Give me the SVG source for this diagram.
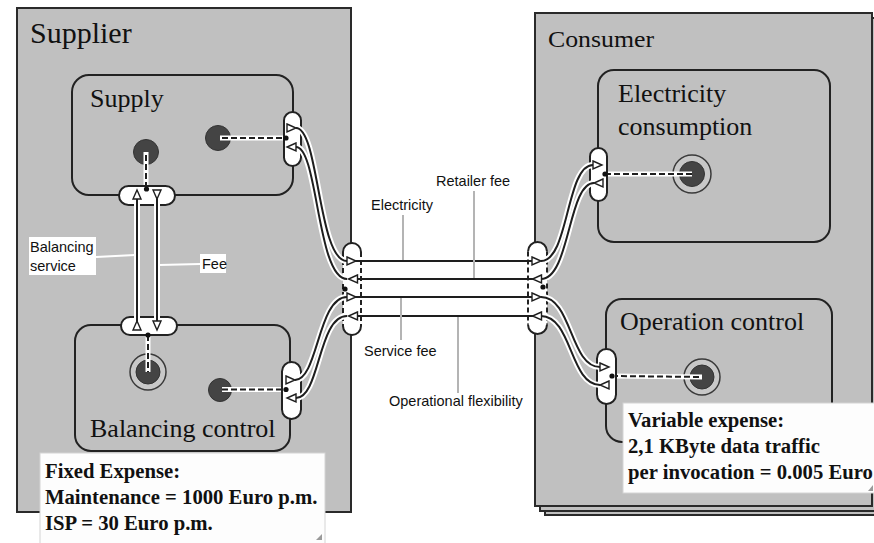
<svg xmlns="http://www.w3.org/2000/svg" width="874" height="543" viewBox="0 0 874 543">
<style>
.actor{fill:#c0c0c0;stroke:#2a2a2a;stroke-width:2}
.box{fill:#c0c0c0;stroke:#222;stroke-width:2}
.pill{fill:#fff;stroke:#222;stroke-width:2}
.pillfill{fill:#fff;stroke:none}
.pcap{fill:none;stroke:#222;stroke-width:2}
.pside{fill:none;stroke:#222;stroke-width:2;stroke-dasharray:5 3}
.halo{fill:none;stroke:#fff;stroke-width:6;stroke-linecap:butt}
.ln{fill:none;stroke:#1e1e1e;stroke-width:2}
.tri{fill:#fff;stroke:#1e1e1e;stroke-width:1.4;stroke-linejoin:miter}
.dhalo{stroke:#fff;stroke-width:5}
.dash{stroke:#1e1e1e;stroke-width:2;stroke-dasharray:6 3}
.dot{fill:#111}
.stim{fill:#444;stroke:#333;stroke-width:1}
.ring{fill:#c8c8c8;stroke:#3a3a3a;stroke-width:1.5}
.serif{font-family:"Liberation Serif","Times New Roman",serif;fill:#111}
.sans{font-family:"Liberation Sans",Arial,sans-serif;font-size:14.5px;fill:#111}
.note{fill:#fdfdfd;stroke:#d4d4d4;stroke-width:1}
.notetxt{font-family:"Liberation Serif","Times New Roman",serif;font-size:20.7px;font-weight:bold;fill:#111}
.lead{stroke:#b4b4b4;stroke-width:2}
.leadw{stroke:#fff;stroke-width:2}
.lbg{fill:#fff}
.corner{fill:#9a9a9a}
</style>
<defs>
<path id="tr" class="tri" d="M-4.5,-4 L4.5,0 L-4.5,4 Z"/>
<path id="tl" class="tri" d="M4.5,-4 L-4.5,0 L4.5,4 Z"/>
<path id="tu" class="tri" d="M-4,4.5 L0,-4.5 L4,4.5 Z"/>
<path id="td" class="tri" d="M-4,-4.5 L0,4.5 L4,-4.5 Z"/>
<path id="cA" d="M296,128 C319,128 318,261 347,261"/>
<path id="cB" d="M296,147 C318,147 317,279 347,279"/>
<path id="cC" d="M295,380 C318,380 318,297 347,297"/>
<path id="cD" d="M296,398 C320,398 318,316 347,316"/>
<path id="cE" d="M541,261 C569,261 566,165 593,165"/>
<path id="cF" d="M541,279 C570,279 568,183 594,183"/>
<path id="cG" d="M541,297 C572,297 570,367 600,367"/>
<path id="cH" d="M541,316 C572,316 570,385 600,385"/>
<path id="hL1" d="M352,261 H537"/>
<path id="hL2" d="M352,279 H537"/>
<path id="hL3" d="M352,297 H537"/>
<path id="hL4" d="M352,316 H537"/>
<path id="v1" d="M137,195 V326"/>
<path id="v2" d="M157,195 V326"/>
</defs>

<rect width="874" height="543" fill="#fff"/>

<g id="supplier">
<rect class="actor" x="17" y="8" width="334" height="504"/>
<text class="serif" x="30" y="43" font-size="30">Supplier</text>
</g>

<g id="consumer">
<rect class="actor" x="545" y="23" width="340" height="492"/>
<rect class="actor" x="540" y="18" width="340" height="493"/>
<rect class="actor" x="535" y="13" width="337" height="493"/>
<text class="serif" x="548" y="47" font-size="24" textLength="106" lengthAdjust="spacingAndGlyphs">Consumer</text>
</g>

<g id="supply">
<rect class="box" x="72" y="75" width="221" height="120" rx="17"/>
<text class="serif" x="90" y="107" font-size="26">Supply</text>
<circle class="stim" cx="146" cy="152" r="12.5"/>
<circle class="stim" cx="218" cy="138" r="12.5"/>
<line class="dhalo" x1="146" y1="152" x2="146" y2="189"/>
<line class="dash" x1="146" y1="155" x2="146" y2="189"/>
<line class="dhalo" x1="220" y1="138" x2="286" y2="138"/>
<line class="dash" x1="222" y1="138" x2="286" y2="138"/>
</g>

<g id="balancing-control">
<rect class="box" x="75" y="325" width="215" height="126" rx="16"/>
<text class="serif" x="90" y="437" font-size="26">Balancing control</text>
<circle class="ring" cx="148" cy="372" r="18"/>
<circle class="stim" cx="148" cy="372" r="12"/>
<line class="dhalo" x1="148" y1="335" x2="148" y2="372"/>
<line class="dash" x1="148" y1="335" x2="148" y2="372"/>
<circle class="stim" cx="220" cy="390" r="11.5"/>
<line class="dhalo" x1="222" y1="389.5" x2="286" y2="389.5"/>
<line class="dash" x1="222" y1="389.5" x2="286" y2="389.5"/>
</g>

<g id="electricity-consumption">
<rect class="box" x="598" y="70" width="232" height="172" rx="16"/>
<text class="serif" x="618" y="102" font-size="26">Electricity</text>
<text class="serif" x="618" y="135" font-size="26">consumption</text>
<circle class="ring" cx="692" cy="174" r="19"/>
<circle class="stim" cx="692" cy="174" r="12.5"/>
<line class="dhalo" x1="605" y1="174" x2="692" y2="174"/>
<line class="dash" x1="605" y1="174" x2="692" y2="174"/>
</g>

<g id="operation-control">
<rect class="box" x="606" y="299" width="226" height="143" rx="16"/>
<text class="serif" x="620" y="330" font-size="26">Operation control</text>
<circle class="ring" cx="702" cy="377" r="18"/>
<circle class="stim" cx="702" cy="377" r="12"/>
<line class="dhalo" x1="612" y1="376" x2="702" y2="377"/>
<line class="dash" x1="612" y1="376" x2="702" y2="377"/>
</g>

<g id="ports">
<rect class="pill" x="284" y="112" width="17" height="54" rx="8.5"/>
<rect class="pill" x="282" y="362" width="19" height="57" rx="9.5"/>
<rect class="pill" x="590" y="148" width="17" height="53" rx="8.5"/>
<rect class="pill" x="597" y="349" width="19" height="55" rx="9.5"/>
<rect class="pill" x="119" y="186" width="56" height="19" rx="9.5"/>
<rect class="pill" x="121" y="317" width="56" height="18" rx="9"/>
<rect class="pillfill" x="343" y="243" width="18" height="92" rx="9"/>
<path class="pcap" d="M343,252 A9,9 0 0 1 361,252 M343,326 A9,9 0 0 0 361,326"/>
<path class="pside" d="M343,252 V326 M361,252 V326"/>
<rect class="pillfill" x="528" y="242" width="19" height="92" rx="9.5"/>
<path class="pcap" d="M528,251.5 A9.5,9.5 0 0 1 547,251.5 M528,324.5 A9.5,9.5 0 0 0 547,324.5"/>
<path class="pside" d="M528,251.5 V324.5 M547,251.5 V324.5"/>
</g>

<g id="connectors">
<use href="#cA" class="halo"/><use href="#cB" class="halo"/><use href="#cC" class="halo"/><use href="#cD" class="halo"/>
<use href="#cE" class="halo"/><use href="#cF" class="halo"/><use href="#cG" class="halo"/><use href="#cH" class="halo"/>
<use href="#v1" class="halo"/><use href="#v2" class="halo"/>
<use href="#cA" class="ln"/><use href="#cB" class="ln"/><use href="#cC" class="ln"/><use href="#cD" class="ln"/>
<use href="#cE" class="ln"/><use href="#cF" class="ln"/><use href="#cG" class="ln"/><use href="#cH" class="ln"/>
<use href="#hL1" class="ln"/><use href="#hL2" class="ln"/><use href="#hL3" class="ln"/><use href="#hL4" class="ln"/>
<use href="#v1" class="ln"/><use href="#v2" class="ln"/>
<use href="#tr" x="291.5" y="128"/><use href="#tl" x="291.5" y="147"/>
<use href="#tr" x="290.5" y="380"/><use href="#tl" x="291.5" y="398"/>
<use href="#tr" x="351.5" y="261"/><use href="#tl" x="353" y="279"/><use href="#tr" x="351.5" y="297"/><use href="#tl" x="353" y="316"/>
<use href="#tr" x="536.5" y="261"/><use href="#tl" x="537" y="279"/><use href="#tr" x="536.5" y="297"/><use href="#tl" x="537" y="316"/>
<use href="#tr" x="597.5" y="165"/><use href="#tl" x="598.5" y="183"/>
<use href="#tr" x="604.5" y="367"/><use href="#tl" x="604.5" y="385"/>
<use href="#tu" x="137" y="194.5"/><use href="#td" x="157" y="194.5"/>
<use href="#tu" x="137" y="325.5"/><use href="#td" x="157" y="325.5"/>
<circle class="dot" cx="146.5" cy="189" r="2.6"/>
<circle class="dot" cx="286" cy="138" r="2.6"/>
<circle class="dot" cx="148" cy="335" r="2.6"/>
<circle class="dot" cx="286" cy="389.5" r="2.6"/>
<circle class="dot" cx="345" cy="289" r="2.6"/>
<circle class="dot" cx="543" cy="287" r="2.6"/>
<circle class="dot" cx="605" cy="174" r="2.6"/>
<circle class="dot" cx="612" cy="376" r="2.6"/>
</g>

<g id="labels">
<line class="lead" x1="403" y1="215" x2="403" y2="260"/>
<line class="lead" x1="474" y1="191" x2="474" y2="278"/>
<line class="lead" x1="401" y1="298" x2="401" y2="340"/>
<line class="lead" x1="458" y1="317" x2="458" y2="393"/>
<text class="sans" x="371" y="210">Electricity</text>
<text class="sans" x="436" y="186">Retailer fee</text>
<text class="sans" x="364" y="356">Service fee</text>
<text class="sans" x="389" y="406">Operational flexibility</text>
<line class="leadw" x1="96" y1="257" x2="135" y2="255"/>
<line class="leadw" x1="159" y1="265" x2="200" y2="264"/>
<rect class="lbg" x="29" y="237" width="67" height="38"/>
<text class="sans" x="30" y="252">Balancing</text>
<text class="sans" x="30" y="271">service</text>
<rect class="lbg" x="200" y="254" width="26" height="19"/>
<text class="sans" x="202" y="269">Fee</text>
</g>

<g id="note-fixed">
<rect class="note" x="40" y="453" width="285" height="95"/>
<text class="notetxt" x="45" y="478">Fixed Expense:</text>
<text class="notetxt" x="45" y="504">Maintenance = 1000 Euro p.m.</text>
<text class="notetxt" x="45" y="530">ISP = 30 Euro p.m.</text>
<path class="corner" d="M316,540 L322,534 L322,540 Z"/>
</g>

<g id="note-variable">
<rect class="note" x="623" y="403" width="260" height="90"/>
<text class="notetxt" x="628" y="427">Variable expense:</text>
<text class="notetxt" x="628" y="453">2,1 KByte data traffic</text>
<text class="notetxt" x="628" y="479">per invocation = 0.005 Euro</text>
<path class="corner" d="M868,491 L873,485 L873,491 Z"/>
</g>
</svg>
